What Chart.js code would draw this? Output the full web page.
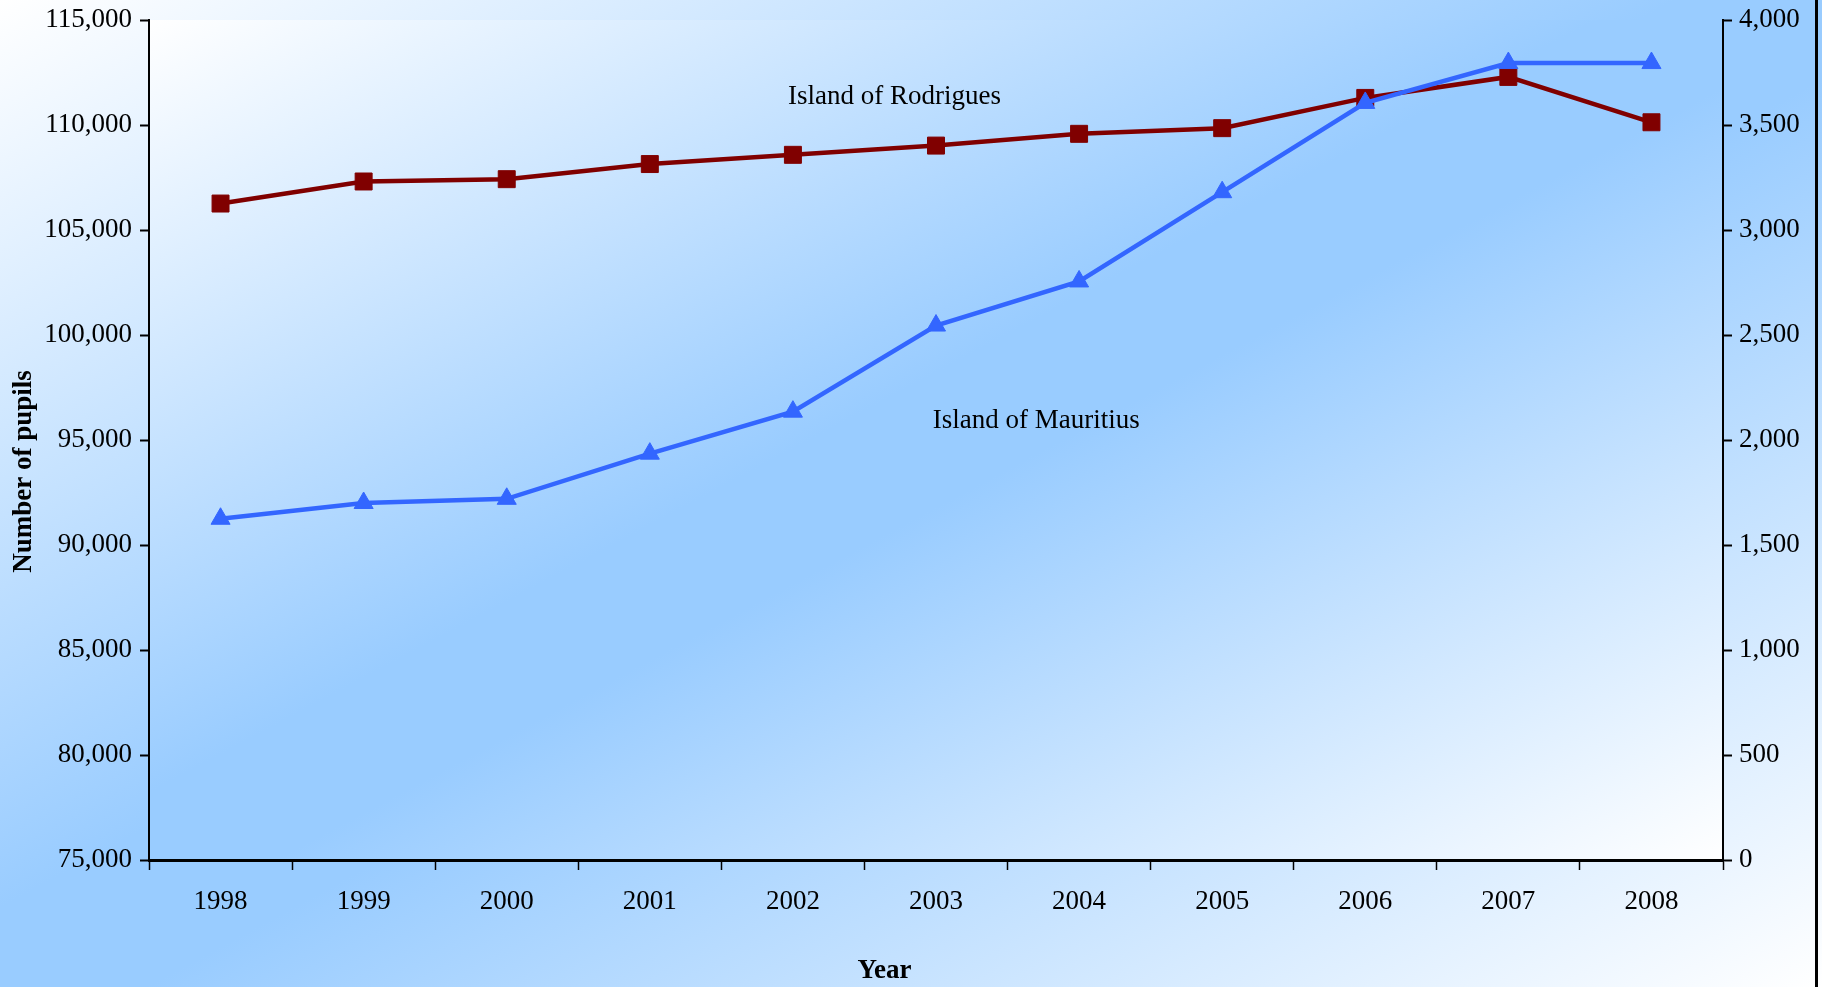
<!DOCTYPE html>
<html>
<head>
<meta charset="utf-8">
<script src="https://cdn.jsdelivr.net/npm/chart.js@4.4.1/dist/chart.umd.min.js"></script>
<style>
  html, body { margin: 0; padding: 0; background: #ffffff; }
  #wrap { width: 1822px; height: 987px; position: relative; }
</style>
</head>
<body>
<div id="wrap"><canvas id="pupilsChart"></canvas></div>
<script>
// Data
const years = ['1998', '1999', '2000', '2001', '2002', '2003', '2004', '2005', '2006', '2007', '2008'];
const mauritius = [91250, 92000, 92200, 94350, 96350, 100450, 102550, 106800, 111050, 112950, 112950];
const rodrigues = [3126, 3231, 3242, 3314, 3358, 3402, 3458, 3485, 3629, 3729, 3513];

// Series labels placed inside the chart (category index, left-axis value)
const seriesLabels = [
    { text: 'Island of Rodrigues', at: 4.71, value: 111350 },
    { text: 'Island of Mauritius', at: 5.70, value: 95900 }
];

const FONT = "'Liberation Serif', 'Times New Roman', serif";

// Excel-like diagonal gradient: white corners top-left / bottom-right, blue across the middle
function diagonalFill(ctx, x, y, w, h) {
    ctx.save();
    ctx.translate(x, y);
    ctx.scale(w, h);
    const g = ctx.createLinearGradient(0, 0, 1, 1);
    g.addColorStop(0, '#ffffff');
    g.addColorStop(0.46, '#99ccff');
    g.addColorStop(0.54, '#99ccff');
    g.addColorStop(1, '#ffffff');
    ctx.fillStyle = g;
    ctx.fillRect(0, 0, 1, 1);
    ctx.restore();
}

const backgroundPlugin = {
    id: 'gradientBackground',
    beforeDraw(chart) {
        const ctx = chart.ctx;
        const a = chart.chartArea;
        diagonalFill(ctx, 0, 0, chart.width, chart.height);
        diagonalFill(ctx, a.left, a.top, a.right - a.left, a.bottom - a.top);
        // thin frame line at the right edge
        ctx.save();
        ctx.fillStyle = '#000000';
        ctx.fillRect(chart.width - 7, 0, 3, chart.height);
        ctx.restore();
    }
};

const labelPlugin = {
    id: 'seriesLabels',
    afterDatasetsDraw(chart) {
        const ctx = chart.ctx;
        const xs = chart.scales.x;
        const ys = chart.scales.y;
        ctx.save();
        ctx.fillStyle = '#000000';
        ctx.textAlign = 'center';
        ctx.textBaseline = 'middle';
        ctx.font = '27px ' + FONT;
        seriesLabels.forEach(l => {
            ctx.fillText(l.text, xs.getPixelForValue(l.at), ys.getPixelForValue(l.value));
        });
        // axis titles (the reference sets them off-centre)
        ctx.font = 'bold 27px ' + FONT;
        ctx.fillText('Year', xs.getPixelForValue(4.64), chart.height - 16);
        ctx.translate(24, ys.getPixelForValue(93500));
        ctx.rotate(-Math.PI / 2);
        ctx.fillText('Number of pupils', 0, 0);
        ctx.restore();
    }
};

// fixed axis sizes so the plot area sits where the reference has it
function fixWidth(w) {
    return function(scale) {
        scale.width = w;
        scale.paddingTop = 0;
        scale.paddingBottom = 0;
    };
}

const ctx = document.getElementById('pupilsChart').getContext('2d');

new Chart(ctx, {
    type: 'line',
    data: {
        labels: years,
        datasets: [{
            label: 'Island of Mauritius',
            data: mauritius,
            yAxisID: 'y',
            borderColor: '#3366ff',
            backgroundColor: '#3366ff',
            borderWidth: 4.5,
            pointStyle: 'triangle',
            pointRadius: 11,
            pointBorderWidth: 1,
            tension: 0,
            fill: false
        }, {
            label: 'Island of Rodrigues',
            data: rodrigues,
            yAxisID: 'y1',
            borderColor: '#800000',
            backgroundColor: '#800000',
            borderWidth: 4.5,
            pointStyle: 'rect',
            pointRadius: 12,
            pointBorderWidth: 1,
            tension: 0,
            fill: false
        }]
    },
    options: {
        responsive: true,
        maintainAspectRatio: false,
        animation: false,
        clip: false,
        layout: { padding: { top: 20, left: 0, right: 0, bottom: 0 } },
        plugins: {
            legend: { display: false },
            tooltip: { enabled: false }
        },
        scales: {
            x: {
                offset: true,
                grid: {
                    offset: true,
                    drawOnChartArea: false,
                    drawTicks: true,
                    tickLength: 10,
                    tickWidth: 1.5,
                    tickColor: '#000000'
                },
                border: { display: true, color: '#000000', width: 3 },
                ticks: {
                    color: '#000000',
                    font: { family: FONT, size: 27 },
                    padding: 16,
                    maxRotation: 0
                },
                afterFit(scale) { scale.height = 127; }
            },
            y: {
                position: 'left',
                min: 75000,
                max: 115000,
                grid: {
                    drawOnChartArea: false,
                    drawTicks: true,
                    tickLength: 9,
                    tickWidth: 2,
                    tickColor: '#000000'
                },
                border: { display: true, color: '#000000', width: 2 },
                ticks: {
                    stepSize: 5000,
                    color: '#000000',
                    font: { family: FONT, size: 27 },
                    padding: 8,
                    callback: v => v.toLocaleString('en-US')
                },
                afterFit: fixWidth(149)
            },
            y1: {
                position: 'right',
                min: 0,
                max: 4000,
                grid: {
                    drawOnChartArea: false,
                    drawTicks: true,
                    tickLength: 9,
                    tickWidth: 2,
                    tickColor: '#000000'
                },
                border: { display: true, color: '#000000', width: 2 },
                ticks: {
                    stepSize: 500,
                    color: '#000000',
                    font: { family: FONT, size: 27 },
                    padding: 7,
                    callback: v => v.toLocaleString('en-US')
                },
                afterFit: fixWidth(99)
            }
        }
    },
    plugins: [backgroundPlugin, labelPlugin]
});
</script>
</body>
</html>
